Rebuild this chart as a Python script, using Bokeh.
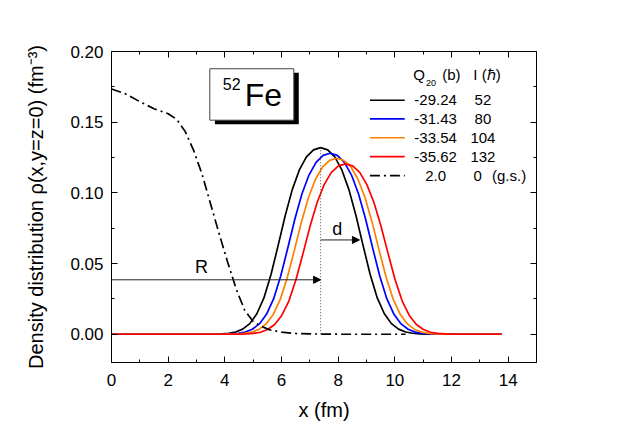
from bokeh.plotting import figure
from bokeh.models import (Range1d, LinearAxis, FixedTicker, Arrow, NormalHead,
                          NumeralTickFormatter, CustomJSTickFormatter)
from bokeh.core.properties import value
from bokeh.embed import file_html
from bokeh.resources import INLINE

# ---------------- data ----------------
x_black = [0, 3.38, 3.63, 3.88, 4.13, 4.38, 4.63, 4.88, 5.13, 5.38, 5.63, 5.88, 6.13, 6.38, 6.63, 6.88, 7.13,
           7.38, 7.63, 7.88, 8.13, 8.38, 8.63, 8.88, 9.13, 9.38, 9.63, 9.88, 10.13, 10.38, 10.63, 10.88, 11.13, 11.38, 13.77]
y_black = [0, 0, 0.0001, 0.0003, 0.0007, 0.0016, 0.0036, 0.0075, 0.0145, 0.0257, 0.0422, 0.0627, 0.0838, 0.1023,
           0.1162, 0.1254, 0.1304, 0.132, 0.1304, 0.1254, 0.1162, 0.1023, 0.0838, 0.0627, 0.0422, 0.0257, 0.0145,
           0.0075, 0.0036, 0.0016, 0.0007, 0.0003, 0.0001, 0, 0]

x_blue = [0, 3.72, 3.97, 4.22, 4.47, 4.72, 4.97, 5.22, 5.47, 5.72, 5.97, 6.22, 6.47, 6.72, 6.97, 7.22, 7.47,
          7.72, 7.97, 8.22, 8.47, 8.72, 8.97, 9.22, 9.47, 9.72, 9.97, 10.22, 10.47, 10.72, 10.97, 11.22, 11.47, 11.72, 13.77]
y_blue = [0, 0, 0.0001, 0.0003, 0.0006, 0.0015, 0.0035, 0.0073, 0.0141, 0.025, 0.041, 0.0608, 0.0813, 0.0992,
          0.1126, 0.1216, 0.1265, 0.128, 0.1265, 0.1216, 0.1126, 0.0992, 0.0813, 0.0608, 0.041, 0.025, 0.0141,
          0.0073, 0.0035, 0.0015, 0.0006, 0.0003, 0.0001, 0, 0]

x_orange = [0, 3.95, 4.2, 4.45, 4.7, 4.95, 5.2, 5.45, 5.7, 5.95, 6.2, 6.45, 6.7, 6.95, 7.2, 7.45, 7.7,
            7.95, 8.2, 8.45, 8.7, 8.95, 9.2, 9.45, 9.7, 9.95, 10.2, 10.45, 10.7, 10.95, 11.2, 11.45, 11.7, 11.95, 13.77]
y_orange = [0, 0, 0.0001, 0.0002, 0.0006, 0.0015, 0.0034, 0.0071, 0.0137, 0.0243, 0.0398, 0.0591, 0.0791, 0.0965,
            0.1096, 0.1183, 0.123, 0.1245, 0.123, 0.1183, 0.1096, 0.0965, 0.0791, 0.0591, 0.0398, 0.0243, 0.0137,
            0.0071, 0.0034, 0.0015, 0.0006, 0.0002, 0.0001, 0, 0]

x_red = [0, 4.26, 4.51, 4.76, 5.01, 5.26, 5.51, 5.76, 6.01, 6.26, 6.51, 6.76, 7.01, 7.26, 7.51, 7.76, 8.01,
         8.26, 8.51, 8.76, 9.01, 9.26, 9.51, 9.76, 10.01, 10.26, 10.51, 10.76, 11.01, 11.26, 11.51, 11.76, 12.01, 12.26, 13.77]
y_red = [0, 0, 0.0001, 0.0002, 0.0006, 0.0014, 0.0033, 0.0069, 0.0133, 0.0235, 0.0386, 0.0572, 0.0765, 0.0934,
         0.106, 0.1145, 0.1191, 0.1205, 0.1191, 0.1145, 0.106, 0.0934, 0.0765, 0.0572, 0.0386, 0.0235, 0.0133,
         0.0069, 0.0033, 0.0014, 0.0006, 0.0002, 0.0001, 0, 0]

x_gs = [0, 0.5, 1.0, 1.5, 2.0, 2.3, 2.6, 2.9, 3.2, 3.5, 3.8, 4.1, 4.4, 4.7, 5.0, 5.3, 5.6, 6.0, 6.5, 7.0, 8.0, 10.38]
y_gs = [0.1735, 0.170, 0.1645, 0.1595, 0.156, 0.152, 0.1435, 0.130, 0.113, 0.092, 0.071, 0.051, 0.032, 0.017,
        0.009, 0.0055, 0.003, 0.0015, 0.0005, 0.0002, 0, 0]

legend_q = ["-29.24", "-31.43", "-33.54", "-35.62", "2.0"]
legend_i = ["52", "80", "104", "132", "0"]
curve_colors = ["#000000", "#0000FF", "#FF8000", "#FF0000"]

x_ticks = [0, 2, 4, 6, 8, 10, 12, 14]
x_minor = [1, 3, 5, 7, 9, 11, 13, 15]
y_ticks = [0.0, 0.05, 0.10, 0.15, 0.20]
y_minor = [0.025, 0.075, 0.125, 0.175]

R_value = 7.38      # ring radius (fm)
d_end = 8.75        # end of the "d" arrow (fm)

FONT = "Liberation Sans"

# ---------------- figure ----------------
p = figure(width=615, height=427, x_range=Range1d(0, 15), y_range=Range1d(-0.02, 0.20),
           output_backend="svg", toolbar_location=None,
           min_border_left=111, min_border_right=79, min_border_top=51, min_border_bottom=65)
p.background_fill_color = "white"
p.border_fill_color = "white"
p.outline_line_color = "black"
p.outline_line_width = 1
p.xgrid.visible = False
p.ygrid.visible = False

xt = FixedTicker(ticks=x_ticks, minor_ticks=x_minor)
yt = FixedTicker(ticks=y_ticks, minor_ticks=y_minor)


def style_axis(ax):
    ax.axis_line_color = "black"
    ax.axis_line_width = 1
    ax.major_tick_in = 6
    ax.major_tick_out = 0
    ax.minor_tick_in = 3
    ax.minor_tick_out = 0
    ax.major_tick_line_color = "black"
    ax.minor_tick_line_color = "black"
    ax.major_label_text_font = FONT
    ax.major_label_text_font_size = "17px"
    ax.major_label_text_color = "black"
    ax.axis_label_text_font = FONT
    ax.axis_label_text_font_style = "normal"
    ax.axis_label_text_color = "black"


p.xaxis.ticker = xt
p.yaxis.ticker = yt
p.yaxis.formatter = NumeralTickFormatter(format="0.00")
style_axis(p.xaxis[0])
style_axis(p.yaxis[0])
p.xaxis.axis_label = "x (fm)"
p.xaxis.axis_label_text_font_size = "20px"
p.xaxis.major_label_standoff = 11
p.xaxis.axis_label_standoff = 10
p.yaxis.axis_label = "Density distribution ρ(x,y=z=0) (fm⁻³)"
p.yaxis.axis_label_text_font_size = "20px"
p.yaxis.major_label_standoff = 8
p.yaxis.axis_label_standoff = 20

blank = CustomJSTickFormatter(code="return ''")
top_ax = LinearAxis(ticker=xt, formatter=blank)
right_ax = LinearAxis(ticker=yt, formatter=blank)
style_axis(top_ax)
style_axis(right_ax)
p.add_layout(top_ax, "above")
p.add_layout(right_ax, "right")

# ---------------- curves ----------------
for xs, ys, c in zip([x_black, x_blue, x_orange, x_red], [y_black, y_blue, y_orange, y_red], curve_colors):
    p.line(xs, ys, line_color=c, line_width=1.7)
p.line(x_gs, y_gs, line_color="black", line_width=1.7, line_dash="10 4 2 4")

# vertical dotted line at R
p.segment(x0=[R_value], y0=[0], x1=[R_value], y1=[max(y_black)], line_color="#555555",
          line_width=1, line_dash="1 2")

# R and d arrows
p.add_layout(Arrow(end=NormalHead(size=7, fill_color="black", line_color="black", line_width=1),
                   x_start=0, y_start=0.0385, x_end=R_value, y_end=0.0385,
                   line_color="#222222", line_width=1))
p.add_layout(Arrow(end=NormalHead(size=7, fill_color="black", line_color="black", line_width=1),
                   x_start=R_value, y_start=0.0667, x_end=d_end, y_end=0.0667,
                   line_color="#222222", line_width=1))
p.text(x=[3.18], y=[0.0474], text=["R"], text_font=value(FONT), text_font_size="18px",
       text_align="center", text_baseline="alphabetic", text_color="black")
p.text(x=[7.97], y=[0.0746], text=["d"], text_font=value(FONT), text_font_size="18px",
       text_align="center", text_baseline="alphabetic", text_color="black")

# 52Fe label box with shadow
p.quad(left=[3.65], right=[6.61], top=[0.185], bottom=[0.1486], fill_color="black", line_color=None)
p.quad(left=[3.47], right=[6.435], top=[0.1878], bottom=[0.1514], fill_color="white",
       line_color="#444444", line_width=1)
p.text(x=[3.93], y=[0.1769], text=["52"], text_font=value(FONT), text_font_size="16px",
       text_align="left", text_baseline="alphabetic", text_color="black")
p.text(x=[4.70], y=[0.1695], text=["Fe"], text_font=value(FONT), text_font_size="32px",
       text_align="left", text_baseline="alphabetic", text_color="black")

# ---------------- legend table ----------------
row_y = [0.1655, 0.1523, 0.1390, 0.1256, 0.1122]
base_off = 0.0
p.segment(x0=[9.12] * 4, y0=row_y[:4], x1=[10.35] * 4, y1=row_y[:4], line_color=curve_colors, line_width=1.7)
p.segment(x0=[9.12], y0=[row_y[4]], x1=[10.35], y1=[row_y[4]], line_color="black", line_width=1.7,
          line_dash="10 4 2 4")
p.text(x=[11.44] * 5, y=[r - base_off for r in row_y], text=legend_q, text_font=value(FONT),
       text_font_size="15px", text_align="center", text_baseline="alphabetic", text_color="black")
p.text(x=[13.11] * 4 + [12.92], y=[r - base_off for r in row_y], text=legend_i, text_font=value(FONT),
       text_font_size="15px", text_align="center", text_baseline="alphabetic", text_color="black")
p.text(x=[13.43], y=[row_y[4] - base_off], text=["(g.s.)"], text_font=value(FONT),
       text_font_size="15px", text_align="left", text_baseline="alphabetic", text_color="black")
# header
p.text(x=[10.65], y=[0.1838], text=["Q"], text_font=value(FONT), text_font_size="15px",
       text_align="left", text_baseline="alphabetic", text_color="black")
p.text(x=[11.10], y=[0.1778], text=["20"], text_font=value(FONT), text_font_size="9px",
       text_align="left", text_baseline="alphabetic", text_color="black")
p.text(x=[11.67], y=[0.1838], text=["(b)"], text_font=value(FONT), text_font_size="15px",
       text_align="left", text_baseline="alphabetic", text_color="black")
p.text(x=[12.77], y=[0.1838], text=["I (ℏ)"], text_font=value(FONT), text_font_size="15px",
       text_align="left", text_baseline="alphabetic", text_color="black")

open("out.html", "w").write(file_html(p, INLINE))
